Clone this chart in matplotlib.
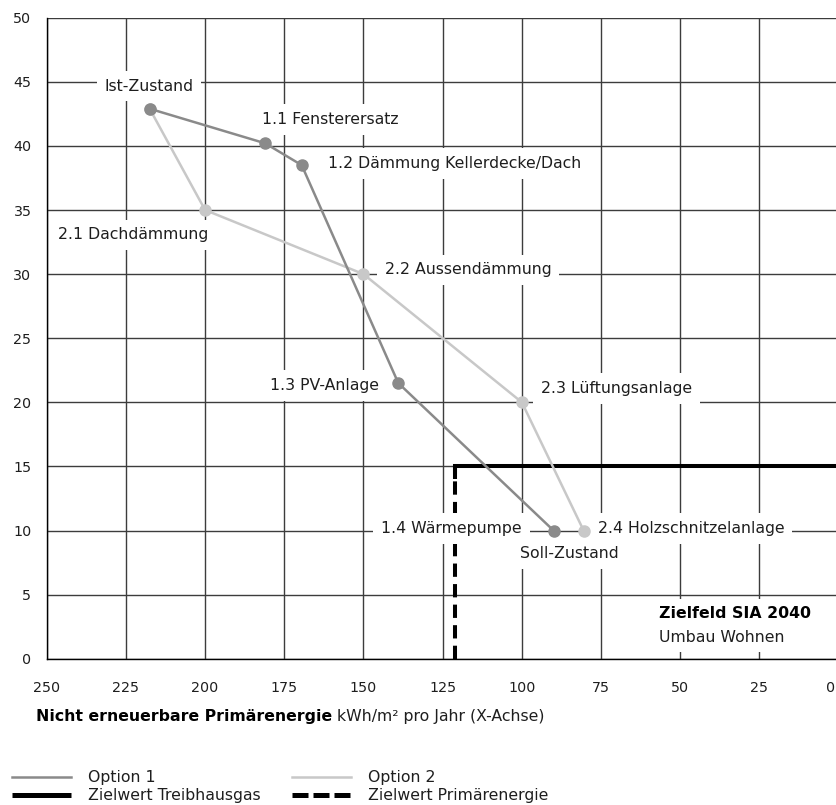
import matplotlib
matplotlib.use("Agg")
import matplotlib.pyplot as plt
from matplotlib.lines import Line2D
from matplotlib.transforms import ScaledTranslation

plt.rcParams['font.family'] = ['DejaVu Sans']

# ---- data ----
opt1_labels = ["Ist-Zustand", "1.1 Fensterersatz", "1.2 Dämmung Kellerdecke/Dach", "1.3 PV-Anlage", "1.4 Wärmepumpe"]
opt1_x = [217.5, 181, 169.5, 139, 90]
opt1_y = [42.9, 40.2, 38.5, 21.5, 10.0]

opt2_labels = ["Ist-Zustand", "2.1 Dachdämmung", "2.2 Aussendämmung", "2.3 Lüftungsanlage", "2.4 Holzschnitzelanlage"]
opt2_x = [217.5, 200, 150, 100, 80.5]
opt2_y = [42.9, 35.0, 30.0, 20.0, 10.0]

target_ghg = 15          # Zielwert Treibhausgas (y)
target_pe = 121          # Zielwert Primärenergie (x)

x_ticks = [250, 225, 200, 175, 150, 125, 100, 75, 50, 25, 0]
y_ticks = [0, 5, 10, 15, 20, 25, 30, 35, 40, 45, 50]

# label layout (x, y, ha) in data coordinates
label_layout = {
    "Ist-Zustand": (217.7, 44.67, "center"),
    "1.1 Fensterersatz": (182.1, 42.07, "left"),
    "1.2 Dämmung Kellerdecke/Dach": (161.1, 38.64, "left"),
    "2.1 Dachdämmung": (246.3, 33.05, "left"),
    "2.2 Aussendämmung": (143.2, 30.33, "left"),
    "1.3 PV-Anlage": (179.5, 21.3, "left"),
    "2.3 Lüftungsanlage": (94.05, 21.09, "left"),
    "1.4 Wärmepumpe": (100.05, 10.17, "right"),
    "2.4 Holzschnitzelanlage": (76.05, 10.17, "left"),
    "Soll-Zustand": (100.6, 8.22, "left"),
}

C1 = "#8a8a8a"
C2 = "#c8c8c8"
GRID = "#3c3c3c"
TXT = "#1e1e1e"
FS = 11.3

W, H = 837, 805
fig = plt.figure(figsize=(W / 100, H / 100), dpi=100)
ax = fig.add_axes([46.7 / W, 146.3 / H, 791.9 / W, 641.0 / H])
ax.set_xlim(250, 0)
ax.set_ylim(0, 50)
ax.set_xticks(x_ticks)
ax.set_yticks(y_ticks)
ax.set_xticklabels([str(v) for v in x_ticks])
ax.set_yticklabels([str(v) for v in y_ticks])
ax.tick_params(axis='both', length=0, labelsize=10.3, colors=TXT)
ax.tick_params(axis='x', pad=16)
ax.tick_params(axis='y', pad=11)

# keep the last x tick label (0) inside the figure edge
last = ax.get_xticklabels()[-1]
last.set_horizontalalignment('right')
last.set_transform(last.get_transform() + ScaledTranslation(-3 / 100, 0, fig.dpi_scale_trans))

for s in ['top', 'right']:
    ax.spines[s].set_visible(False)
for s in ['bottom', 'left']:
    ax.spines[s].set_color('black')
    ax.spines[s].set_linewidth(1.0)
    ax.spines[s].set_zorder(5)

for v in x_ticks:
    ax.axvline(v, color=GRID, lw=1.0, zorder=0)
for v in y_ticks:
    ax.axhline(v, color=GRID, lw=1.0, zorder=0)

# target lines
ax.plot([target_pe, target_pe], [0, target_ghg], color='black', lw=2.9,
        dashes=(3.3, 1.8), zorder=1, solid_capstyle='butt', dash_capstyle='butt')
ax.plot([target_pe, target_pe, 0], [target_ghg - 1.0, target_ghg, target_ghg], color='black', lw=2.9,
        zorder=1, solid_joinstyle='miter', solid_capstyle='butt')

# labels with white boxes
box = dict(boxstyle='square,pad=0.5', fc='white', ec='none')
for name, (lx, ly, ha) in label_layout.items():
    ax.text(lx, ly, name, ha=ha, va='center', fontsize=FS, color=TXT, bbox=box, zorder=2)

ax.text(56.7, 3.49, "Zielfeld SIA 2040", ha='left', va='center', fontsize=FS,
        fontweight='bold', color='black', bbox=dict(boxstyle='square,pad=0.45', fc='white', ec='none'), zorder=2)
ax.text(56.7, 1.69, "Umbau Wohnen", ha='left', va='center', fontsize=FS,
        color=TXT, bbox=dict(boxstyle='square,pad=0.45', fc='white', ec='none'), zorder=2)

# data series
ax.plot(opt2_x, opt2_y, color=C2, lw=1.8, marker='o', ms=8, zorder=3)
ax.plot(opt1_x, opt1_y, color=C1, lw=1.8, marker='o', ms=8, zorder=4)

# x-axis label (bold + regular)
renderer = fig.canvas.get_renderer()
t1 = fig.text(36 / W, 1 - 717 / H, "Nicht erneuerbare Primärenergie", fontsize=FS,
              fontweight='bold', ha='left', va='center', color='black')
bb = t1.get_window_extent(renderer)
fig.text((bb.x1 + 5) / W, 1 - 717 / H, "kWh/m² pro Jahr (X-Achse)", fontsize=FS,
         ha='left', va='center', color=TXT)

# legend
handles = [
    Line2D([], [], color=C1, lw=1.8),
    Line2D([], [], color='black', lw=3.6, solid_capstyle='butt'),
    Line2D([], [], color=C2, lw=1.8),
    Line2D([], [], color='black', lw=3.6, dashes=(3.2, 1.0), dash_capstyle='butt'),
]
labels = ["Option 1", "Zielwert Treibhausgas", "Option 2", "Zielwert Primärenergie"]
fig.legend(handles, labels, loc='upper left', bbox_to_anchor=(12 / W, 1 - 770 / H),
           ncol=2, frameon=False, fontsize=FS, handlelength=3.76, handletextpad=1.08,
           columnspacing=2.0, labelspacing=0.2, borderpad=0, borderaxespad=0,
           labelcolor=TXT)

fig.savefig("out.png", dpi=100)
